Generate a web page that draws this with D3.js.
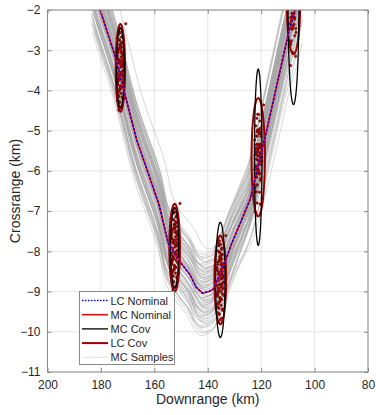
<!DOCTYPE html>
<html>
<head>
<meta charset="utf-8">
<script src="https://cdn.jsdelivr.net/npm/d3@7"></script>
<style>
  body { margin: 0; background: #fff; }
  text { font-family: "Liberation Sans", Arial, sans-serif; fill: #262626; }
</style>
</head>
<body>
<svg id="chart" width="376" height="415"></svg>
<script>
// nominal trajectory (km)
const nomDr = [182.6, 180.3, 175.0, 166.6, 158.2, 154.8, 150.4, 146.6, 144.4, 142.0, 139.5, 137.9, 134.2, 131.0, 127.3, 124.2, 117.9, 109.8, 107.3, 105.5];
const nomCr = [-1.5, -2.0, -3.08, -5.23, -6.85, -7.80, -8.26, -8.59, -8.89, -9.04, -9.0, -8.94, -8.38, -7.80, -7.22, -6.72, -4.98, -2.58, -2.0, -1.45];
const nomGrow = [0, 0, 0, 0, 0, 0, 0, 0, 0, 0, 0, 0, 0.1, 0.25, 0.45, 0.7, 1.2, 1.35, 1.4, 1.45];

// covariance nodes
const nodeDr = [172.7, 152.4, 135.3, 121.1, 107.9];
const nodeCr = [-3.44, -7.91, -8.71, -5.66, -1.8];
const nodeGrow = [0, 0, 0, 1, 1.4];
const lcRx = [1.76, 2.0, 2.2, 2.5, 2.5];
const lcRy = [1.09, 1.09, 1.1, 1.47, 1.3];
const mcRx = [1.4, 1.5, 1.75, 1.4, 2.05];
const mcRy = [1.0, 1.0, 1.43, 2.19, 2.55];

// MC sample offsets: crossrange offset, crossrange drift, downrange offset (km)
const sampA = [0.12,-0.35,0.58,-0.81,0.27,-0.05,0.91,-0.44,0.36,-0.67,
  0.08,0.49,-0.22,0.73,-0.95,0.19,-0.31,0.64,-0.12,0.41,
  -0.58,0.02,0.85,-0.76,0.31,-0.18,0.55,-0.39,0.15,-0.63,
  0.97,-0.09,0.23,-0.49,0.68,-0.27,0.04,-0.86,0.46,-0.14,
  0.79,-0.53,0.33,-0.02,0.61,-0.71,0.21,-0.37,0.88,-0.24,
  0.10,-0.60,0.52,-0.99,0.38,-0.16,0.70,-0.46,0.26,-0.07,
  1.10,-0.29,0.44,-0.72,0.17,-0.41,0.62,-0.11,0.29,-0.84,
  0.53,-0.20,0.06,-0.55,0.76,-0.33,0.39,-1.05,0.14,-0.48];
const sampB = [0.40,-0.22,0.10,-0.55,0.31,0.05,-0.38,0.62,-0.12,0.20,
  -0.47,0.15,0.53,-0.30,0.08,-0.60,0.26,-0.05,0.44,-0.18,
  0.35,-0.41,0.12,0.58,-0.25,0.03,-0.52,0.29,-0.09,0.48,
  -0.33,0.17,-0.44,0.07,0.39,-0.14,0.57,-0.28,0.22,-0.62,
  0.11,0.46,-0.19,0.33,-0.36,0.02,0.51,-0.49,0.18,-0.07,
  0.42,-0.26,0.09,0.60,-0.16,0.27,-0.39,0.13,-0.57,0.36,
  0.20,-0.10,0.34,-0.45,0.06,0.50,-0.31,0.24,-0.04,0.15,
  -0.23,0.41,-0.58,0.28,-0.12,0.47,-0.35,0.55,-0.20,0.08];
const sampD = [0.5,-0.8,0.2,1.1,-0.3,-1.2,0.6,0.1,-0.6,0.9,
  -0.1,0.4,-1.0,1.3,-0.5,0.3,0.7,-0.7,0.0,-1.1,
  1.0,-0.2,0.5,-0.9,1.2,-0.4,0.1,-1.3,0.7,-0.3,
  0.3,-0.7,1.0,-0.5,0.2,0.8,-0.9,0.4,-0.1,1.2,
  -0.6,0.2,-1.1,0.7,-0.3,0.5,-0.8,1.1,-0.1,0.3,
  -1.0,0.8,-0.5,0.0,0.9,-0.7,0.5,-0.2,1.3,-1.2,
  -2.0,-0.4,0.9,-0.8,0.1,1.0,-0.6,0.3,-0.9,0.4,
  -0.3,0.7,-1.0,0.2,-0.5,1.1,-0.2,0.6,-0.7,0.0];

const xTicks = [200, 180, 160, 140, 120, 100, 80];
const yTicks = [-11, -10, -9, -8, -7, -6, -5, -4, -3, -2];
const legendItems = ['LC Nominal', 'MC Nominal', 'MC Cov', 'LC Cov', 'MC Samples'];

const svg = d3.select('#chart');
const mLeft = 47.5, mRight = 368, mTop = 10, mBottom = 372;

const x = d3.scaleLinear().domain([200, 80]).range([mLeft, mRight]);
const y = d3.scaleLinear().domain([-11, -2]).range([mBottom, mTop]);

svg.append('defs').append('clipPath').attr('id', 'clip')
  .append('rect')
  .attr('x', mLeft).attr('y', mTop)
  .attr('width', mRight - mLeft).attr('height', mBottom - mTop);

// grid
const grid = svg.append('g');
grid.selectAll('.gx').data(xTicks).enter().append('line')
  .attr('x1', d => x(d)).attr('x2', d => x(d))
  .attr('y1', mTop).attr('y2', mBottom)
  .attr('stroke', '#e6e6e6');
grid.selectAll('.gy').data(yTicks).enter().append('line')
  .attr('x1', mLeft).attr('x2', mRight)
  .attr('y1', d => y(d)).attr('y2', d => y(d))
  .attr('stroke', '#e6e6e6');

const plot = svg.append('g').attr('clip-path', 'url(#clip)');

const line = d3.line().x(d => x(d[0])).y(d => y(d[1]));
const smooth = d3.line().x(d => x(d[0])).y(d => y(d[1])).curve(d3.curveCatmullRom.alpha(0.5));

// MC samples
const samples = sampA.map((a, i) =>
  nomDr.map((dr, j) => [dr + sampD[i], nomCr[j] + a + sampB[i] * nomGrow[j]]));

plot.append('g').selectAll('path').data(samples).enter().append('path')
  .attr('d', smooth)
  .attr('fill', 'none')
  .attr('stroke', '#a6a6a6')
  .attr('stroke-opacity', 0.6)
  .attr('stroke-width', 0.75);

// sample points at nodes
const dots = [];
nodeDr.forEach((dr, k) => {
  sampA.forEach((a, i) => {
    dots.push([dr + sampD[i], nodeCr[k] + a + sampB[i] * nodeGrow[k]]);
  });
});
plot.append('g').selectAll('circle').data(dots).enter().append('circle')
  .attr('cx', d => x(d[0]))
  .attr('cy', d => y(d[1]))
  .attr('r', 1.2)
  .attr('fill', '#cc0000')
  .attr('stroke', '#3a0000')
  .attr('stroke-width', 0.5);

// covariance ellipses
const ellipse = (cx, cy, rx, ry) => line(d3.range(0, 81).map(k => {
  const t = k / 80 * 2 * Math.PI;
  return [cx + rx * Math.cos(t), cy + ry * Math.sin(t)];
}));

plot.append('g').selectAll('path').data(nodeDr).enter().append('path')
  .attr('d', (d, k) => ellipse(d, nodeCr[k], lcRx[k], lcRy[k]))
  .attr('fill', 'none')
  .attr('stroke', '#9a0000')
  .attr('stroke-width', 2);

plot.append('g').selectAll('path').data(nodeDr).enter().append('path')
  .attr('d', (d, k) => ellipse(d, nodeCr[k], mcRx[k], mcRy[k]))
  .attr('fill', 'none')
  .attr('stroke', '#000')
  .attr('stroke-width', 1.3);

// nominal
const nominal = nomDr.map((d, j) => [d, nomCr[j]]);
plot.append('path').datum(nominal)
  .attr('d', line)
  .attr('fill', 'none')
  .attr('stroke', '#ff0000')
  .attr('stroke-width', 1.6);
plot.append('path').datum(nominal)
  .attr('d', line)
  .attr('fill', 'none')
  .attr('stroke', '#0000ff')
  .attr('stroke-width', 1.6)
  .attr('stroke-dasharray', '2,2');

// axes
const axisColor = '#8a8a8a';
const styleAxis = g => {
  g.select('.domain').remove();
  g.selectAll('.tick line').attr('stroke', axisColor);
  g.selectAll('.tick text').attr('fill', '#262626').attr('font-size', 12);
};

svg.append('g').attr('transform', `translate(0,${mBottom})`)
  .call(d3.axisBottom(x).tickValues(xTicks).tickSize(-4).tickPadding(8))
  .call(styleAxis);
svg.append('g').attr('transform', `translate(0,${mTop})`)
  .call(d3.axisTop(x).tickValues(xTicks).tickSize(-4).tickFormat(''))
  .call(styleAxis);
svg.append('g').attr('transform', `translate(${mLeft},0)`)
  .call(d3.axisLeft(y).tickValues(yTicks).tickSize(-4).tickPadding(7))
  .call(styleAxis);
svg.append('g').attr('transform', `translate(${mRight},0)`)
  .call(d3.axisRight(y).tickValues(yTicks).tickSize(-4).tickFormat(''))
  .call(styleAxis);

svg.append('rect')
  .attr('x', mLeft).attr('y', mTop)
  .attr('width', mRight - mLeft).attr('height', mBottom - mTop)
  .attr('fill', 'none')
  .attr('stroke', axisColor);

svg.append('text')
  .attr('x', (mLeft + mRight) / 2).attr('y', 404)
  .attr('text-anchor', 'middle')
  .attr('font-size', 14)
  .text('Downrange (km)');

svg.append('text')
  .attr('transform', `translate(20,${(mTop + mBottom) / 2}) rotate(-90)`)
  .attr('text-anchor', 'middle')
  .attr('font-size', 14)
  .text('Crossrange (km)');

// legend
const legend = svg.append('g');
legend.append('rect')
  .attr('x', 79.5).attr('y', 291.5)
  .attr('width', 95).attr('height', 73)
  .attr('fill', '#fff')
  .attr('stroke', '#8a8a8a');

const legendStyle = [
  { color: '#0000ff', width: 1.6, dash: '1.5,1.5' },
  { color: '#ff0000', width: 1.6, dash: null },
  { color: '#000', width: 1.3, dash: null },
  { color: '#9a0000', width: 2, dash: null },
  { color: '#e6e6e6', width: 1.2, dash: null }
];

legendItems.forEach((name, i) => {
  const ly = 300.5 + i * 14.2;
  legend.append('line')
    .attr('x1', 82).attr('x2', 108)
    .attr('y1', ly).attr('y2', ly)
    .attr('stroke', legendStyle[i].color)
    .attr('stroke-width', legendStyle[i].width)
    .attr('stroke-dasharray', legendStyle[i].dash);
  legend.append('text')
    .attr('x', 110.5).attr('y', ly + 4)
    .attr('font-size', 11)
    .text(name);
});
</script>
</body>
</html>
